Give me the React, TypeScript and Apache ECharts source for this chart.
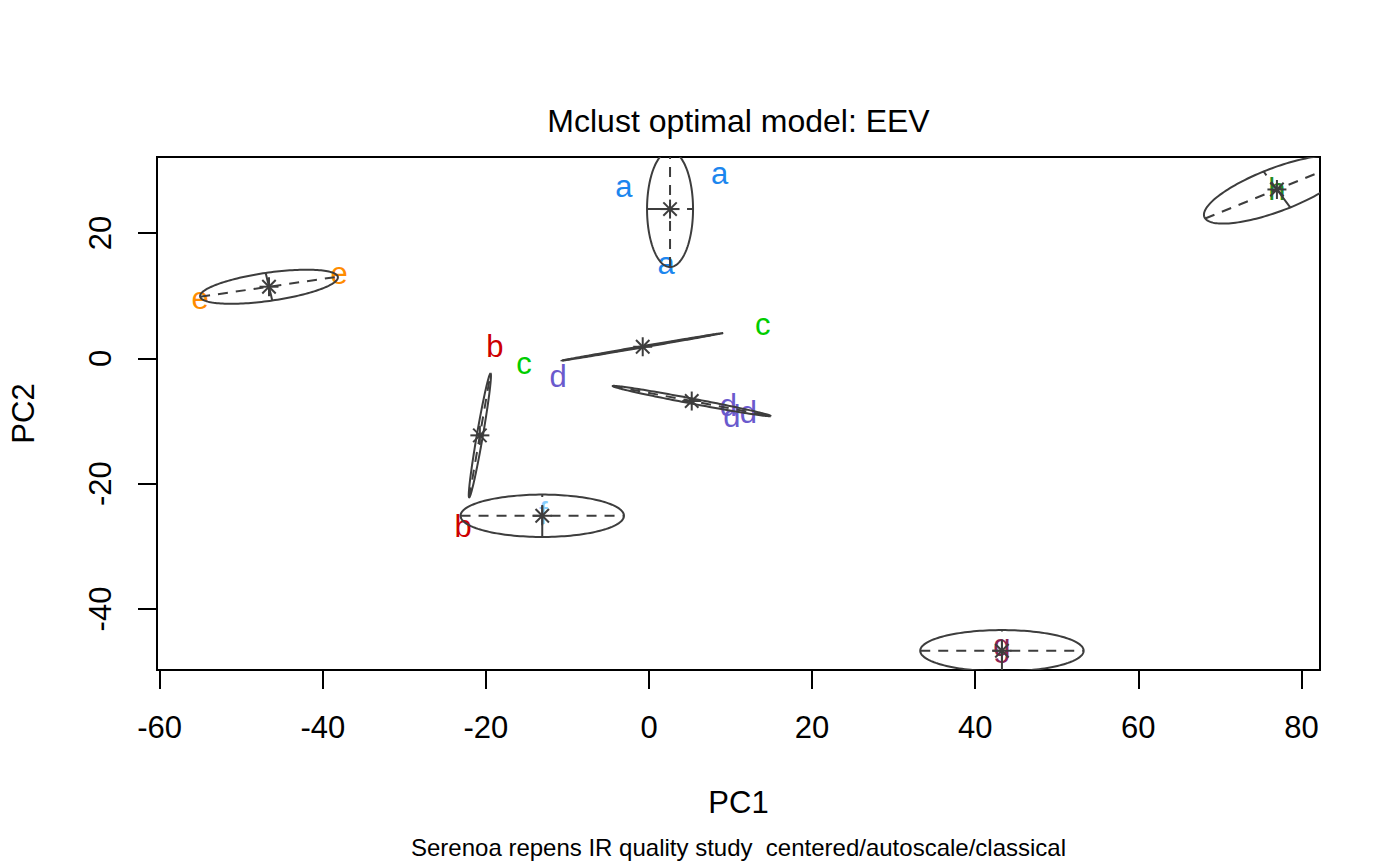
import React, { useEffect, useRef } from "react";
import * as echarts from "echarts";

// ---- data ----
const pointClass = ["a", "a", "a", "b", "b", "c", "c", "d", "d", "d", "d", "e", "e", "f", "g", "h"];
const pointPC1 = [-3.07, 8.65, 2.09, -18.9, -22.79, -15.34, 13.95, -11.13, 9.73, 10.15, 12.18, -55.05, -38.0, -12.97, 43.28, 77.0];
const pointPC2 = [27.01, 29.1, 14.62, 1.85, -26.87, -1.34, 4.99, -2.94, -7.45, -9.32, -8.68, 9.03, 13.13, -24.73, -46.7, 26.9];

const classLetters = ["a", "b", "c", "d", "e", "f", "g", "h"];
const classColors = ["#1C86EE", "#CD0000", "#00CD00", "#6A5ACD", "#FF8C00", "#87CEFF", "#8B2252", "#228B22"];

// cluster means and ellipse semi-axis vectors (PC units)
const centerPC1 = [2.58, -20.74, -0.77, 5.24, -46.6, -13.09, 43.28, 77.0];
const centerPC2 = [23.82, -12.29, 1.85, -6.81, 11.43, -25.12, -46.66, 26.95];
const majorPC1 = [0, 1.31, 9.85, 9.69, 8.44, 10.02, 10.02, 8.8];
const majorPC2 = [9.25, 9.89, 2.19, -2.39, 1.6, 0, 0, 4.63];
const minorPC1 = [2.82, 0.37, -0.022, 0.097, 0.405, 0, 0, -1.63];
const minorPC2 = [0, -0.049, 0.1, 0.39, -2.2, 3.38, 3.3, 2.87];

const xTicks = [-60, -40, -20, 0, 20, 40, 60, 80];
const yTicks = [-40, -20, 0, 20];

const titleText = "Mclust optimal model: EEV";
const subText = "Serenoa repens IR quality study  centered/autoscale/classical";
const xName = "PC1";
const yName = "PC2";

const FONT = "'Liberation Sans', Arial, Helvetica, sans-serif";
const INK = "#3d3d3d";

function padRange(vals: number[]) {
  const lo = Math.min(...vals);
  const hi = Math.max(...vals);
  const r = hi - lo;
  return [lo - 0.04 * r, hi + 0.04 * r];
}

function letterOffset(l: string) {
  if (l === "g") return -6;
  if (l === "a" || l === "c" || l === "e") return -3;
  return 0;
}

export default function App() {
  const ref = useRef<HTMLDivElement>(null);
  useEffect(() => {
    if (!ref.current) return;
    const chart = echarts.init(ref.current, null, { renderer: "svg" });
    const [xMin, xMax] = padRange(pointPC1);
    const [yMin, yMax] = padRange(pointPC2);

    const pointData = pointClass.map((cls, i) => {
      const k = classLetters.indexOf(cls);
      return {
        name: cls,
        value: [pointPC1[i], pointPC2[i]],
        label: { color: classColors[k], offset: [0, letterOffset(cls)] },
      };
    });

    const ellipseData = centerPC1.map((_, i) => [
      centerPC1[i],
      centerPC2[i],
      majorPC1[i],
      majorPC2[i],
      minorPC1[i],
      minorPC2[i],
    ]);

    const option: any = {
      animation: false,
      backgroundColor: "#ffffff",
      grid: {
        left: 157,
        right: 80,
        top: 157,
        bottom: 196,
        show: true,
        borderColor: "#000",
        borderWidth: 2,
        backgroundColor: "transparent",
      },
      xAxis: {
        type: "value",
        min: xMin,
        max: xMax,
        splitLine: { show: false },
        axisLine: { show: true, onZero: false, lineStyle: { color: "#000", width: 2 } },
        axisTick: { show: true, customValues: xTicks, length: 19, lineStyle: { color: "#000", width: 2 } },
        axisLabel: {
          customValues: xTicks,
          fontSize: 31,
          fontFamily: FONT,
          color: "#000",
          margin: 42,
          formatter: (v: number) => String(v),
        },
        name: xName,
        nameLocation: "middle",
        nameGap: 117,
        nameTextStyle: { fontSize: 31, fontFamily: FONT, color: "#000" },
      },
      yAxis: {
        type: "value",
        min: yMin,
        max: yMax,
        splitLine: { show: false },
        axisLine: { show: true, onZero: false, lineStyle: { color: "#000", width: 2 } },
        axisTick: { show: true, customValues: yTicks, length: 19, lineStyle: { color: "#000", width: 2 } },
        axisLabel: {
          customValues: yTicks,
          rotate: 90,
          fontSize: 31,
          fontFamily: FONT,
          color: "#000",
          margin: 41,
          formatter: (v: number) => String(v),
        },
        name: yName,
        nameLocation: "middle",
        nameGap: 118,
        nameRotate: 90,
        nameTextStyle: { fontSize: 31, fontFamily: FONT, color: "#000" },
      },
      graphic: [
        {
          type: "text",
          x: 738.5,
          y: 121,
          style: {
            text: titleText,
            fontSize: 32,
            fontFamily: FONT,
            fill: "#000",
            align: "center",
            verticalAlign: "middle",
          },
        },
        {
          type: "text",
          x: 738.5,
          y: 847,
          style: {
            text: subText,
            fontSize: 24,
            fontFamily: FONT,
            fill: "#000",
            align: "center",
            verticalAlign: "middle",
          },
        },
      ],
      series: [
        {
          type: "scatter",
          z: 2,
          data: pointData,
          symbol: "circle",
          symbolSize: 1,
          itemStyle: { color: "transparent" },
          label: {
            show: true,
            position: "inside",
            formatter: "{b}",
            fontSize: 31,
            fontFamily: FONT,
            align: "center",
            verticalAlign: "middle",
            textBorderWidth: 0,
            textBorderColor: "transparent",
            opacity: 1,
          },
          emphasis: { disabled: true },
        },
        {
          type: "custom",
          z: 3,
          clip: true,
          data: ellipseData,
          encode: { x: 0, y: 1 },
          renderItem: (params: any, api: any) => {
            const cx = api.value(0);
            const cy = api.value(1);
            const ax = api.value(2);
            const ay = api.value(3);
            const bx = api.value(4);
            const by = api.value(5);
            const pts: number[][] = [];
            const N = 160;
            for (let i = 0; i <= N; i++) {
              const t = (i / N) * 2 * Math.PI;
              pts.push(
                api.coord([
                  cx + Math.cos(t) * ax + Math.sin(t) * bx,
                  cy + Math.cos(t) * ay + Math.sin(t) * by,
                ])
              );
            }
            const c = api.coord([cx, cy]);
            const m1 = api.coord([cx - ax, cy - ay]);
            const m2 = api.coord([cx + ax, cy + ay]);
            const n1 = api.coord([cx - bx, cy - by]);
            const n2 = api.coord([cx + bx, cy + by]);
            const r = 9.5;
            const d = r * Math.SQRT1_2;
            const st = { stroke: INK, lineWidth: 2 };
            return {
              type: "group",
              children: [
                { type: "polyline", shape: { points: pts }, style: { stroke: INK, lineWidth: 2, fill: "none" } },
                {
                  type: "line",
                  shape: { x1: m1[0], y1: m1[1], x2: m2[0], y2: m2[1] },
                  style: { stroke: INK, lineWidth: 2, lineDash: [10, 8] },
                },
                {
                  type: "line",
                  shape: { x1: n1[0], y1: n1[1], x2: n2[0], y2: n2[1] },
                  style: { stroke: INK, lineWidth: 2, lineDash: [32, 8] },
                },
                { type: "line", shape: { x1: c[0] - r, y1: c[1], x2: c[0] + r, y2: c[1] }, style: st },
                { type: "line", shape: { x1: c[0], y1: c[1] - r, x2: c[0], y2: c[1] + r }, style: st },
                { type: "line", shape: { x1: c[0] - d, y1: c[1] - d, x2: c[0] + d, y2: c[1] + d }, style: st },
                { type: "line", shape: { x1: c[0] - d, y1: c[1] + d, x2: c[0] + d, y2: c[1] - d }, style: st },
              ],
            };
          },
        },
      ],
    };
    chart.setOption(option);
    return () => chart.dispose();
  }, []);
  return <div ref={ref} style={{ width: 1400, height: 866, position: "absolute", left: 0, top: 0 }} />;
}
